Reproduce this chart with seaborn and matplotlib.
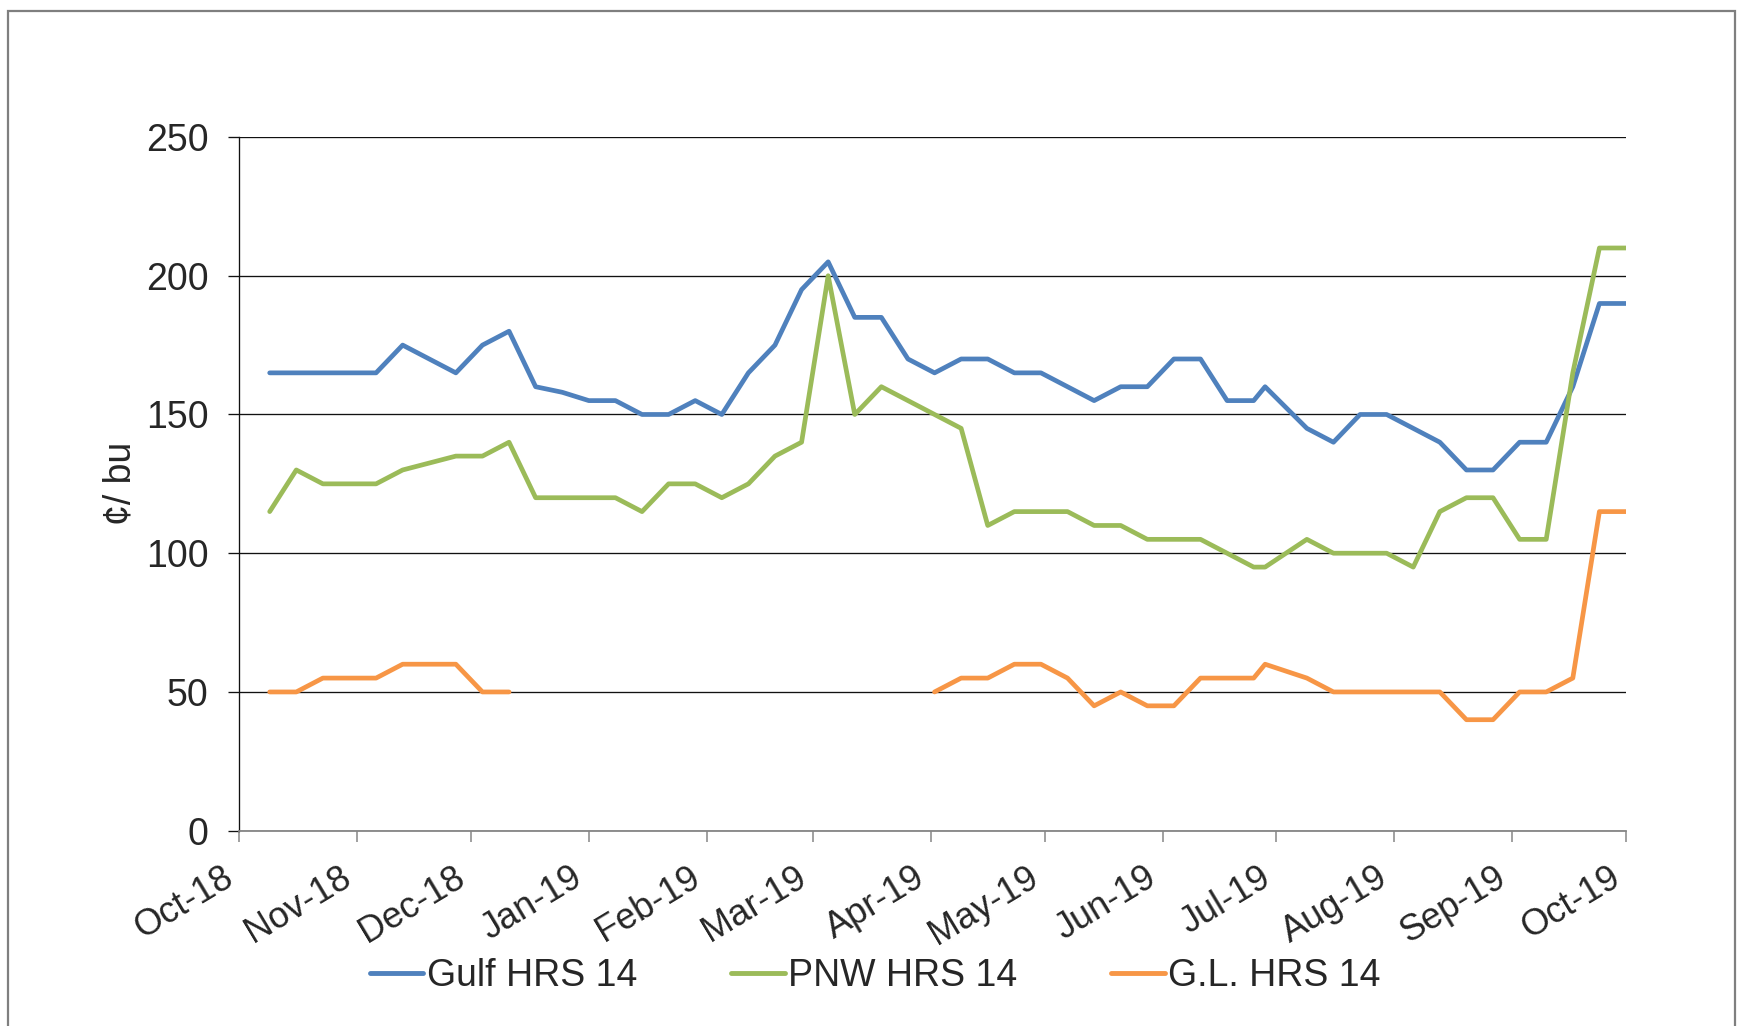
import numpy as np
import pandas as pd
import matplotlib
matplotlib.use('Agg')
import matplotlib.pyplot as plt
import matplotlib.dates as mdates
from matplotlib.lines import Line2D
from matplotlib.patches import Rectangle
import seaborn as sns

sns.set_style('white')
plt.rcParams['font.family'] = ['Liberation Sans', 'DejaVu Sans']

# weekly quotes (one date moved before the 4th of July week)
DATES = ['2018-10-09', '2018-10-16', '2018-10-23', '2018-10-30',
         '2018-11-06', '2018-11-13', '2018-11-20', '2018-11-27',
         '2018-12-04', '2018-12-11', '2018-12-18', '2018-12-25',
         '2019-01-01', '2019-01-08', '2019-01-15', '2019-01-22', '2019-01-29',
         '2019-02-05', '2019-02-12', '2019-02-19', '2019-02-26',
         '2019-03-05', '2019-03-12', '2019-03-19', '2019-03-26',
         '2019-04-02', '2019-04-09', '2019-04-16', '2019-04-23', '2019-04-30',
         '2019-05-07', '2019-05-14', '2019-05-21', '2019-05-28',
         '2019-06-04', '2019-06-11', '2019-06-18', '2019-06-25', '2019-06-28',
         '2019-07-09', '2019-07-16', '2019-07-23', '2019-07-30',
         '2019-08-06', '2019-08-13', '2019-08-20', '2019-08-27',
         '2019-09-03', '2019-09-10', '2019-09-17', '2019-09-24', '2019-10-01']

GULF = [165, 165, 165, 165, 165, 175, 170, 165, 175, 180, 160, 158, 155,
        155, 150, 150, 155, 150, 165, 175, 195, 205, 185, 185, 170, 165,
        170, 170, 165, 165, 160, 155, 160, 160, 170, 170, 155, 155, 160,
        145, 140, 150, 150, 145, 140, 130, 130, 140, 140, 160, 190, 190]

PNW = [115, 130, 125, 125, 125, 130, 132.5, 135, 135, 140, 120, 120, 120,
       120, 115, 125, 125, 120, 125, 135, 140, 200, 150, 160, 155, 150,
       145, 110, 115, 115, 115, 110, 110, 105, 105, 105, 100, 95, 95,
       105, 100, 100, 100, 95, 115, 120, 120, 105, 105, 165, 210, 210]

GL = [50, 50, 55, 55, 55, 60, 60, 60, 50, 50,
      np.nan, np.nan, np.nan, np.nan, np.nan, np.nan, np.nan, np.nan,
      np.nan, np.nan, np.nan, np.nan, np.nan, np.nan, np.nan,
      50, 55, 55, 60, 60, 55, 45, 50, 45, 45, 55, 55, 55, 60,
      55, 50, 50, 50, 50, 50, 40, 40, 50, 50, 55, 115, 115]

SERIES = ['Gulf HRS 14', 'PNW HRS 14', 'G.L. HRS 14']
COLORS = ['#4F81BD', '#9BBB59', '#F79646']
Y_TICKS = [0, 50, 100, 150, 200, 250]

df = pd.DataFrame({'date': pd.to_datetime(DATES),
                   SERIES[0]: GULF, SERIES[1]: PNW, SERIES[2]: GL})
long = df.melt(id_vars='date', var_name='series', value_name='price')
# break lines at missing quotes
long['seg'] = long.groupby('series')['price'].transform(lambda s: s.isna().cumsum())
long = long.dropna(subset=['price'])

fig = plt.figure(figsize=(17.37, 10.26), dpi=100)
ax = fig.add_axes([239.3 / 1737, 1 - 830.7 / 1026,
                   (1626 - 239.3) / 1737, (830.7 - 137) / 1026])

sns.lineplot(data=long, x='date', y='price', hue='series', units='seg',
             estimator=None, palette=dict(zip(SERIES, COLORS)),
             hue_order=SERIES, legend=False, ax=ax, linewidth=3.4,
             solid_capstyle='round', solid_joinstyle='round')

ax.set_xlim(pd.Timestamp('2018-10-01'), pd.Timestamp('2019-10-01'))
ax.set_ylim(0, 250)
ax.set_yticks(Y_TICKS)
ax.xaxis.set_major_locator(mdates.MonthLocator())
ax.xaxis.set_major_formatter(mdates.DateFormatter('%b-%y'))

ax.grid(axis='y', color='#111111', linewidth=0.95)
ax.set_axisbelow(True)
for side in ['top', 'right']:
    ax.spines[side].set_visible(False)
ax.spines['left'].set_color('#111111')
ax.spines['left'].set_linewidth(0.95)
ax.spines['bottom'].set_color('#868686')
ax.spines['bottom'].set_linewidth(1.3)

ax.tick_params(axis='y', length=8, width=0.95, color='#111111',
               labelsize=27, pad=14, left=True)
ax.tick_params(axis='x', length=8, width=1.1, color='#868686',
               labelsize=26, pad=13, bottom=True)
for lab in ax.get_xticklabels():
    lab.set_rotation(31)
    lab.set_ha('right')
    lab.set_va('top')
    lab.set_rotation_mode('default')

ax.set_xlabel('')
ax.set_ylabel('¢/ bu', fontsize=27)
ax.yaxis.set_label_coords(-0.073, 0.5)

handles = [Line2D([], [], color=c, linewidth=3.5) for c in COLORS]
fig.legend(handles, SERIES, loc='center', bbox_to_anchor=(0.504, 0.049),
           ncol=3, frameon=False, fontsize=27, handlelength=1.42,
           handletextpad=0.1, columnspacing=2.5)

fig.add_artist(Rectangle((8 / 1737, -0.02), (1735 - 8) / 1737, 1.02 - 11 / 1026,
                         transform=fig.transFigure, fill=False,
                         edgecolor='#7f7f7f', linewidth=1.6))

fig.savefig('out.png', dpi=100)
